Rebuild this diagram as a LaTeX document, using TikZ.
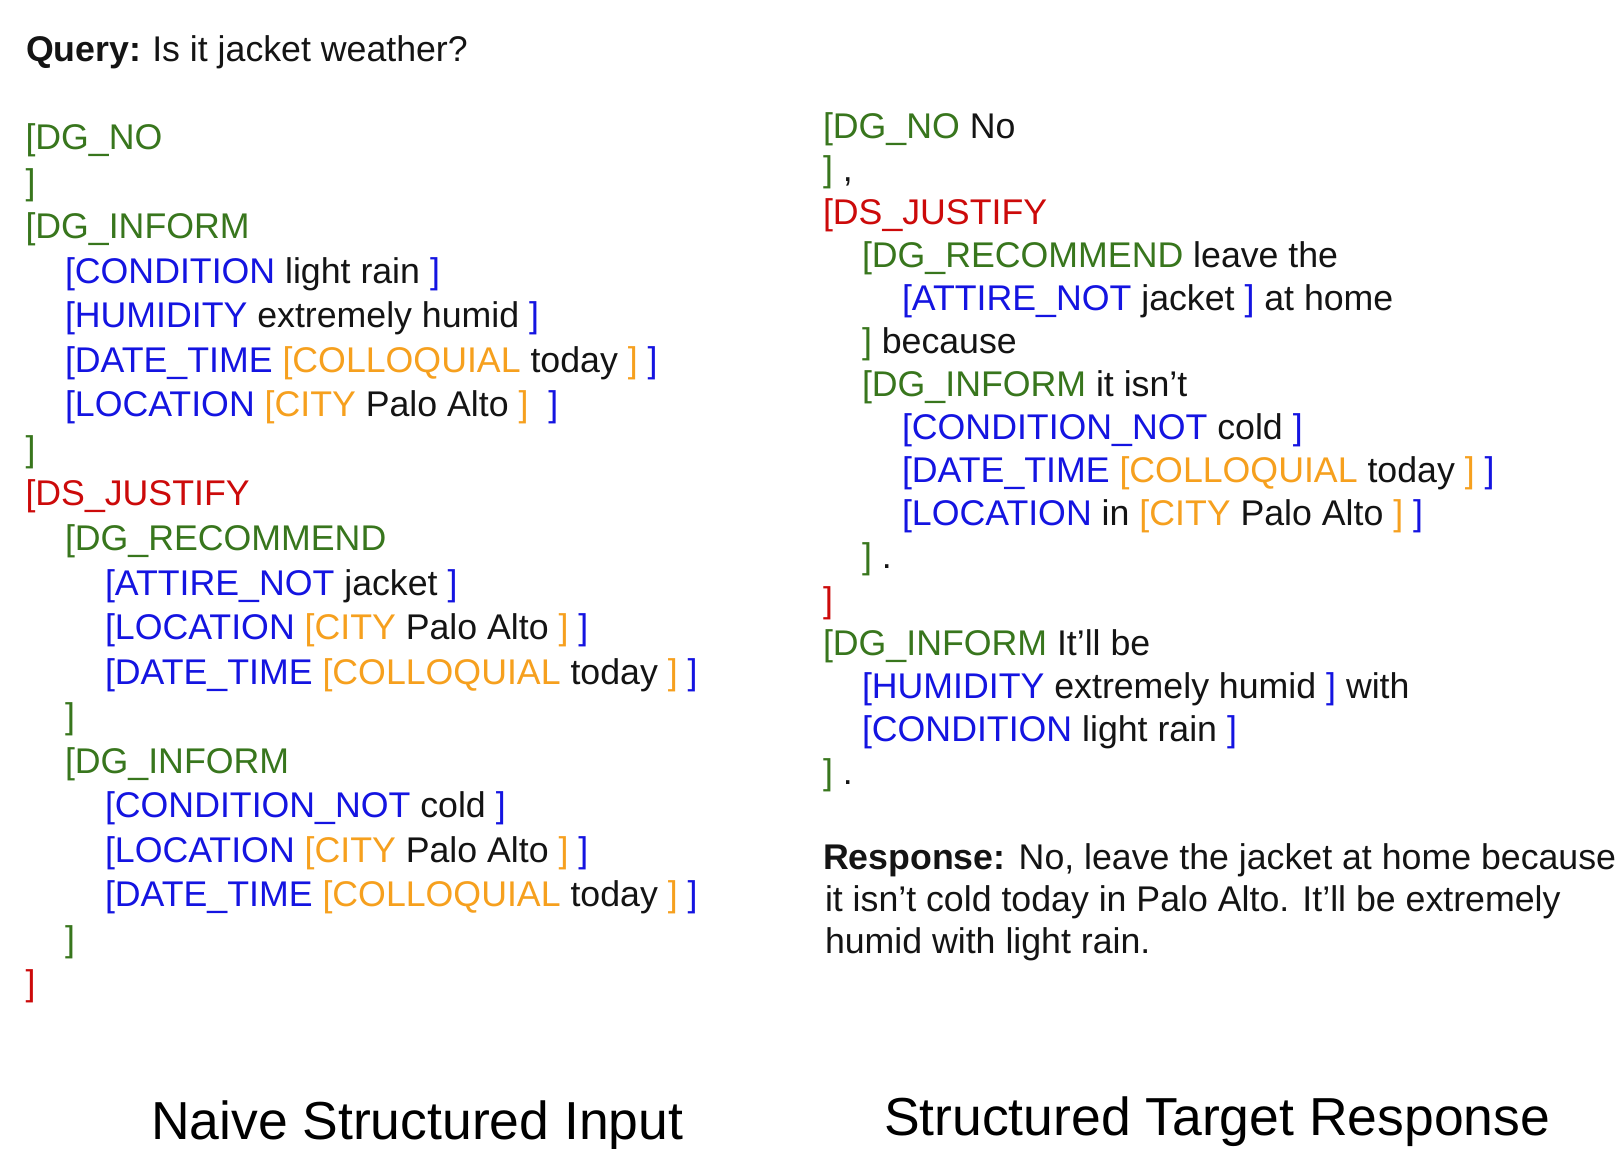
\documentclass[tikz,border=0pt]{standalone}
\usepackage{fontspec}
\setmainfont{Liberation Sans}
\definecolor{cgreenc}{RGB}{56,118,29}
\definecolor{cbluec}{RGB}{20,20,225}
\definecolor{corangec}{RGB}{246,160,30}
\definecolor{credc}{RGB}{204,10,10}
\definecolor{txtc}{RGB}{20,20,20}
\newcommand{\cgr}[1]{\textcolor{cgreenc}{#1}}
\newcommand{\cbl}[1]{\textcolor{cbluec}{#1}}
\newcommand{\cor}[1]{\textcolor{corangec}{#1}}
\newcommand{\cre}[1]{\textcolor{credc}{#1}}
\tikzset{
  codeline/.style={anchor=base west, inner sep=0pt, outer sep=0pt, text=txtc,
    font=\fontsize{17.85}{20}\selectfont},
  captionline/.style={anchor=base west, inner sep=0pt, outer sep=0pt, text=black,
    font=\fontsize{26.75}{30}\selectfont}
}
\begin{document}
\begin{tikzpicture}[x=0.5pt,y=-0.5pt]
\fill[white] (0,0) rectangle (1618,1148);
\useasboundingbox (0,0) rectangle (1618,1148);

% Query
\node[codeline] (query) at (26,61) {\textbf{Query:}\hspace{-1pt} Is it jacket weather?};

% Left column: naive structured input
\node[codeline] (l0)  at (25.5,149.6) {\cgr{[DG\_NO}};
\node[codeline] (l1)  at (25.5,194.1) {\cgr{]}};
\node[codeline] (l2)  at (25.5,238.7) {\cgr{[DG\_INFORM}};
\node[codeline] (l3)  at (65,283.2) {\cbl{[CONDITION} light rain \cbl{]}};
\node[codeline] (l4)  at (65,327.8) {\cbl{[HUMIDITY} extremely humid \cbl{]}};
\node[codeline] (l5)  at (65,372.3) {\cbl{[DATE\_TIME} \cor{[COLLOQUIAL} today \cor{]} \cbl{]}};
\node[codeline] (l6)  at (65,416.8) {\cbl{[LOCATION} \cor{[CITY} Palo Alto \cor{]}\ \ \cbl{]}};
\node[codeline] (l7)  at (25.5,461.4) {\cgr{]}};
\node[codeline] (l8)  at (25.5,505.9) {\cre{[DS\_JUSTIFY}};
\node[codeline] (l9)  at (65,550.5) {\cgr{[DG\_RECOMMEND}};
\node[codeline] (l10) at (105,595.0) {\cbl{[ATTIRE\_NOT} jacket \cbl{]}};
\node[codeline] (l11) at (105,639.5) {\cbl{[LOCATION} \cor{[CITY} Palo Alto \cor{]} \cbl{]}};
\node[codeline] (l12) at (105,684.1) {\cbl{[DATE\_TIME} \cor{[COLLOQUIAL} today \cor{]} \cbl{]}};
\node[codeline] (l13) at (65,728.6) {\cgr{]}};
\node[codeline] (l14) at (65,773.2) {\cgr{[DG\_INFORM}};
\node[codeline] (l15) at (105,817.7) {\cbl{[CONDITION\_NOT} cold \cbl{]}};
\node[codeline] (l16) at (105,862.2) {\cbl{[LOCATION} \cor{[CITY} Palo Alto \cor{]} \cbl{]}};
\node[codeline] (l17) at (105,906.8) {\cbl{[DATE\_TIME} \cor{[COLLOQUIAL} today \cor{]} \cbl{]}};
\node[codeline] (l18) at (65,951.3) {\cgr{]}};
\node[codeline] (l19) at (25.5,995.9) {\cre{]}};

% Right column: structured target response
\node[codeline] (r0)  at (823,138.3) {\cgr{[DG\_NO} No};
\node[codeline] (r1)  at (823,181.4) {\cgr{]} ,};
\node[codeline] (r2)  at (823,224.4) {\cre{[DS\_JUSTIFY}};
\node[codeline] (r3)  at (862,267.5) {\cgr{[DG\_RECOMMEND} leave the};
\node[codeline] (r4)  at (902,310.5) {\cbl{[ATTIRE\_NOT} jacket \cbl{]} at home};
\node[codeline] (r5)  at (862,353.6) {\cgr{]} because};
\node[codeline] (r6)  at (862,396.7) {\cgr{[DG\_INFORM} it isn't};
\node[codeline] (r7)  at (902,439.7) {\cbl{[CONDITION\_NOT} cold \cbl{]}};
\node[codeline] (r8)  at (902,482.8) {\cbl{[DATE\_TIME} \cor{[COLLOQUIAL} today \cor{]} \cbl{]}};
\node[codeline] (r9)  at (902,525.8) {\cbl{[LOCATION} in \cor{[CITY} Palo Alto \cor{]} \cbl{]}};
\node[codeline] (r10) at (862,568.9) {\cgr{]} .};
\node[codeline] (r11) at (823,612.0) {\cre{]}};
\node[codeline] (r12) at (823,655.0) {\cgr{[DG\_INFORM} It'll be};
\node[codeline] (r13) at (862,698.1) {\cbl{[HUMIDITY} extremely humid \cbl{]} with};
\node[codeline] (r14) at (862,741.1) {\cbl{[CONDITION} light rain \cbl{]}};
\node[codeline] (r15) at (823,784.2) {\cgr{]} .};

% Response
\node[codeline] (resp1) at (823,869) {\textbf{Response:} No, leave the jacket at home because};
\node[codeline] (resp2) at (825,911.3) {it isn't cold today in Palo Alto. It'll be extremely};
\node[codeline] (resp3) at (825,953.6) {humid with light rain.};

% Captions
\node[captionline] (cap1) at (151,1139) {Naive Structured Input};
\node[captionline] (cap2) at (884,1135) {Structured Target Response};
\end{tikzpicture}
\end{document}
